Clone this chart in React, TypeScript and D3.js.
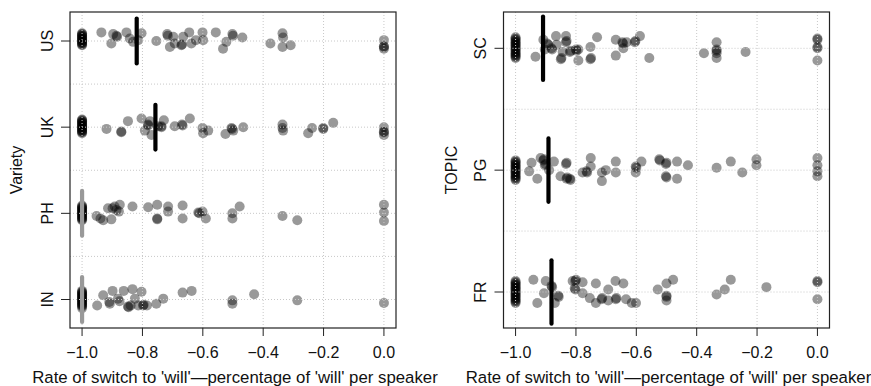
import React from "react";
import * as d3 from "d3";

// ---------- DATA ----------
const varieties = ["US", "UK", "PH", "IN"];
const topics = ["SC", "PG", "FR"];
const xTicks = [-1.0, -0.8, -0.6, -0.4, -0.2, 0.0];
const xTitle = "Rate of switch to 'will'\u2014percentage of 'will' per speaker";

// each point: [rate, jitter in hundredths of a row]
const usPoints: [number, number][] = [
  [-1, -9], [-1, -8], [-1, -7], [-1, -6], [-1, -5], [-1, -4], [-1, -3], [-1, -2], [-1, -1], [-1, 0],
  [-1, 1], [-1, 2], [-1, 3], [-1, 4], [-1, 5],
  [-0.936, -10], [-0.897, -8], [-0.886, -6], [-0.884, -5], [-0.903, 3], [-0.853, -10], [-0.842, -3],
  [-0.831, 1], [-0.814, -1], [-0.803, -9], [-0.754, 0], [-0.718, -8], [-0.716, -6], [-0.709, 7],
  [-0.698, -5], [-0.693, 3], [-0.671, 5], [-0.669, 4], [-0.665, -5], [-0.645, -10], [-0.638, 3],
  [-0.623, -1], [-0.601, -10], [-0.599, -1], [-0.557, -10], [-0.533, 9], [-0.522, 1],
  [-0.502, -8], [-0.500, -6], [-0.469, -4], [-0.376, 3], [-0.336, -9], [-0.334, -4], [-0.336, 7],
  [-0.309, 5], [0, -1], [0, 6], [0, 7], [0, 9],
];
const ukPoints: [number, number][] = [
  [-1, -9], [-1, -8], [-1, -7], [-1, -6], [-1, -5], [-1, -4], [-1, -3], [-1, -2], [-1, -1], [-1, 0],
  [-1, 1], [-1, 2], [-1, 3], [-1, 4], [-1, 5], [-1, 6], [-1, 7],
  [-0.919, 2], [-0.870, 6], [-0.870, 5], [-0.848, -7], [-0.803, -10], [-0.792, 4],
  [-0.781, -3], [-0.781, -2], [-0.775, -7], [-0.770, 9], [-0.748, -1], [-0.737, -1],
  [-0.737, 0], [-0.729, -8], [-0.693, -1], [-0.669, -3], [-0.667, -2], [-0.643, -10],
  [-0.601, 1], [-0.599, 7], [-0.582, 4], [-0.525, 8], [-0.505, 1], [-0.503, 2], [-0.499, 4],
  [-0.466, 0], [-0.336, -3], [-0.334, 4], [-0.336, 1], [-0.251, 7], [-0.238, 1],
  [-0.201, 1], [-0.201, 2], [-0.168, -5], [0, 0], [0, 5], [0, 6], [0, 9],
];
const phPoints: [number, number][] = [
  [-1, -9], [-1, -8], [-1, -7], [-1, -6], [-1, -5], [-1, -4], [-1, -3], [-1, -2], [-1, -1], [-1, 0],
  [-1, 1], [-1, 2], [-1, 3], [-1, 4], [-1, 5], [-1, 6], [-1, 7], [-1, 8],
  [-0.952, 3], [-0.939, 6], [-0.930, 8], [-0.914, -6], [-0.903, 7], [-0.899, -6],
  [-0.892, -8], [-0.886, -4], [-0.875, -10], [-0.878, -2], [-0.833, -8], [-0.781, -7],
  [-0.751, -10], [-0.751, 6], [-0.751, 7], [-0.715, -8], [-0.715, -2], [-0.667, -9],
  [-0.667, 6], [-0.615, -1], [-0.612, 0], [-0.601, -2], [-0.590, 6], [-0.502, 0],
  [-0.502, 6], [-0.478, -8], [-0.336, 3], [-0.287, 8], [0, -10], [0, -1], [0, 9],
];
const inPoints: [number, number][] = [
  [-1, -10], [-1, -9], [-1, -8], [-1, -7], [-1, -6], [-1, -5], [-1, -4], [-1, -3], [-1, -2], [-1, -1],
  [-1, 0], [-1, 1], [-1, 2], [-1, 3], [-1, 4], [-1, 5], [-1, 6], [-1, 7], [-1, 8], [-1, 10],
  [-0.950, 7], [-0.930, -5], [-0.910, 3], [-0.908, 5], [-0.899, -10], [-0.881, -1],
  [-0.876, 2], [-0.862, -10], [-0.848, 8], [-0.846, 9], [-0.839, 7], [-0.833, -12],
  [-0.825, -1], [-0.814, 7], [-0.803, -9], [-0.798, 7], [-0.796, 6], [-0.785, 7],
  [-0.754, 5], [-0.731, -1], [-0.667, -8], [-0.637, -10], [-0.502, 1], [-0.502, 5],
  [-0.430, -6], [-0.287, 1], [0, 4],
];
const scPoints: [number, number][] = [
  [-1, -9], [-1, -8], [-1, -7], [-1, -6], [-1, -5], [-1, -4], [-1, -3], [-1, -2], [-1, -1], [-1, 0],
  [-1, 1], [-1, 2], [-1, 3], [-1, 4], [-1, 5], [-1, 6], [-1, 7], [-1, 8],
  [-0.934, 7], [-0.908, -7], [-0.903, 1], [-0.895, -4], [-0.892, -3], [-0.881, 0],
  [-0.879, 1], [-0.866, -10], [-0.864, -3], [-0.850, 9], [-0.848, 8], [-0.844, 3],
  [-0.833, -10], [-0.833, -5], [-0.831, -6], [-0.820, 3], [-0.818, 2], [-0.800, 1],
  [-0.798, 2], [-0.792, 1], [-0.792, 10], [-0.752, -1], [-0.752, 9], [-0.750, 8],
  [-0.730, -9], [-0.668, -7], [-0.668, 6], [-0.646, -5], [-0.644, -4], [-0.643, 0],
  [-0.632, -5], [-0.605, -5], [-0.603, -6], [-0.588, -10], [-0.557, 8], [-0.376, 4],
  [-0.334, -5], [-0.334, 1], [-0.334, 2], [-0.334, 4], [-0.334, 8], [-0.238, 3],
  [0, -8], [0, -7], [0, -1], [0, 0], [0, 10],
];
const pgPoints: [number, number][] = [
  [-1, -8], [-1, -7], [-1, -6], [-1, -5], [-1, -4], [-1, -3], [-1, -2], [-1, -1], [-1, 0],
  [-1, 1], [-1, 2], [-1, 3], [-1, 4], [-1, 5], [-1, 6], [-1, 7], [-1, 8],
  [-0.955, 1], [-0.947, -6], [-0.928, 7], [-0.917, -10], [-0.908, -8], [-0.906, -9],
  [-0.903, -4], [-0.901, -5], [-0.889, 0], [-0.873, -7], [-0.851, 5], [-0.833, -5],
  [-0.831, -6], [-0.831, 7], [-0.829, 6], [-0.820, 7], [-0.818, 8], [-0.778, 2],
  [-0.765, 1], [-0.763, 2], [-0.751, -10], [-0.751, -3], [-0.714, 2], [-0.714, 9],
  [-0.701, 0], [-0.668, -7], [-0.668, 2], [-0.602, -3], [-0.600, -2], [-0.602, 2],
  [-0.583, -7], [-0.524, -9], [-0.522, -8], [-0.502, -5], [-0.500, -6], [-0.502, 5],
  [-0.500, 6], [-0.465, -7], [-0.465, 7], [-0.429, -4], [-0.334, -2], [-0.287, -7],
  [-0.249, 2], [-0.202, -9], [-0.202, -4], [0, -10], [0, -4], [0, 1], [0, 5],
];
const frPoints: [number, number][] = [
  [-1, -9], [-1, -8], [-1, -7], [-1, -6], [-1, -5], [-1, -4], [-1, -3], [-1, -2], [-1, -1], [-1, 0],
  [-1, 1], [-1, 2], [-1, 3], [-1, 4], [-1, 5], [-1, 6], [-1, 7], [-1, 8], [-1, 9],
  [-0.941, -10], [-0.928, 9], [-0.906, 1], [-0.900, -9], [-0.881, -5], [-0.879, -4],
  [-0.870, 9], [-0.859, 3], [-0.857, 4], [-0.811, -9], [-0.800, -10], [-0.802, -9],
  [-0.804, -3], [-0.802, -2], [-0.778, -8], [-0.778, 1], [-0.754, 5], [-0.734, -7],
  [-0.734, 9], [-0.715, 6], [-0.713, 5], [-0.693, -2], [-0.693, 7], [-0.669, -9],
  [-0.668, 6], [-0.666, 5], [-0.643, -7], [-0.634, 6], [-0.615, 9], [-0.601, 9],
  [-0.529, -2], [-0.500, -7], [-0.500, 4], [-0.500, 3], [-0.500, 7], [-0.478, -10],
  [-0.334, 2], [-0.307, -2], [-0.287, -10], [-0.169, -4], [0, -9], [0, -8], [0, 6],
];

const varietyMeans = [-0.819, -0.757, -1.0, -1.0];
const topicMeans = [-0.909, -0.891, -0.881];

// ---------- PANEL ----------
type PanelProps = {
  left: number;
  right: number;
  top: number;
  bottom: number;
  firstRow: number;
  lastRow: number;
  categories: string[];
  groups: [number, number][][];
  means: number[];
  meanColors: string[];
  yTitle: string;
  yLabelX: number;
  yTitleX: number;
};

const FONT = "'Liberation Sans', Arial, sans-serif";

function Panel(p: PanelProps) {
  const x = d3.scaleLinear().domain([-1.04, 0.04]).range([p.left, p.right]);
  const y = d3.scalePoint<string>().domain(p.categories).range([p.firstRow, p.lastRow]);
  const step = y.step();
  const jit = d3.scaleLinear().domain([0, 100]).range([0, step]);
  const hGrid = d3.range(0, (p.categories.length - 1) * 2 + 1).map((i) => p.firstRow + (i * step) / 2);
  const grid = "#c8c8c8";
  const midY = (p.top + p.bottom) / 2;

  return (
    <g>
      {p.groups.map((pts, gi) =>
        pts.map(([v, j], i) => (
          <circle
            key={`${gi}-${i}`}
            cx={x(v)}
            cy={(y(p.categories[gi]) as number) + jit(j)}
            r={5}
            fill="rgba(0,0,0,0.4)"
          />
        ))
      )}
      {xTicks.map((t) => (
        <line key={`vg${t}`} x1={x(t)} x2={x(t)} y1={p.top} y2={p.bottom} stroke={grid} strokeWidth={1} strokeDasharray="1,2" />
      ))}
      {hGrid.map((gy, i) => (
        <line key={`hg${i}`} x1={p.left} x2={p.right} y1={gy} y2={gy} stroke={grid} strokeWidth={1} strokeDasharray="1,2" />
      ))}
      {p.means.map((m, i) => {
        const cy = y(p.categories[i]) as number;
        return (
          <line
            key={`m${i}`}
            x1={x(m)}
            x2={x(m)}
            y1={cy - jit(26)}
            y2={cy + jit(26)}
            stroke={p.meanColors[i]}
            strokeWidth={4.2}
            strokeLinecap="round"
          />
        );
      })}
      <rect x={p.left} y={p.top} width={p.right - p.left} height={p.bottom - p.top} fill="none" stroke="#222" strokeWidth={1.2} />
      {xTicks.map((t) => (
        <g key={`xt${t}`}>
          <line x1={x(t)} x2={x(t)} y1={p.bottom} y2={p.bottom + 8} stroke="#222" />
          <text x={x(t)} y={358} textAnchor="middle" fontSize={16} fontFamily={FONT} fill="#111">
            {t === 0 ? "0.0" : "\u2212" + Math.abs(t).toFixed(1)}
          </text>
        </g>
      ))}
      <text x={(p.left + p.right) / 2 + 2} y={383} textAnchor="middle" fontSize={16.8} fontFamily={FONT} fill="#111">
        {xTitle}
      </text>
      {p.categories.map((c) => {
        const cy = y(c) as number;
        return (
          <g key={`yt${c}`}>
            <line x1={p.left - 9} x2={p.left} y1={cy} y2={cy} stroke="#222" />
            <text transform={`translate(${p.yLabelX},${cy}) rotate(-90)`} textAnchor="middle" fontSize={16} fontFamily={FONT} fill="#111">
              {c}
            </text>
          </g>
        );
      })}
      <text transform={`translate(${p.yTitleX},${midY}) rotate(-90)`} textAnchor="middle" fontSize={16} fontFamily={FONT} fill="#111">
        {p.yTitle}
      </text>
    </g>
  );
}

export default function App() {
  return (
    <svg width={871} height={386} style={{ position: "absolute", left: 0, top: 0, background: "#fff" }}>
      <rect width={871} height={386} fill="#fff" />
      <Panel
        left={70}
        right={396}
        top={12}
        bottom={328}
        firstRow={41}
        lastRow={299.5}
        categories={varieties}
        groups={[usPoints, ukPoints, phPoints, inPoints]}
        means={varietyMeans}
        meanColors={["#000", "#000", "#999", "#999"]}
        yTitle="Variety"
        yLabelX={53}
        yTitleX={22}
      />
      <Panel
        left={503.5}
        right={829.5}
        top={12}
        bottom={328}
        firstRow={48.3}
        lastRow={292}
        categories={topics}
        groups={[scPoints, pgPoints, frPoints]}
        means={topicMeans}
        meanColors={["#000", "#000", "#000"]}
        yTitle="TOPIC"
        yLabelX={486}
        yTitleX={457}
      />
    </svg>
  );
}
